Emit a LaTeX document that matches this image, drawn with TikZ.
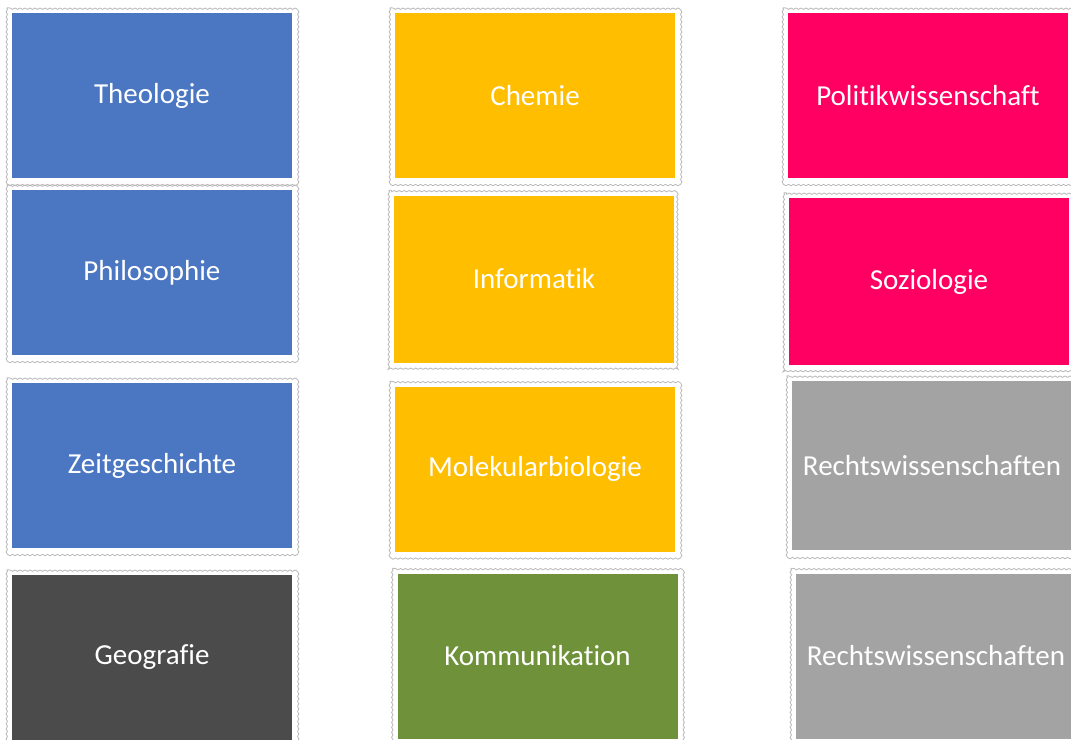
\documentclass[tikz,border=0pt]{standalone}
\usepackage{fontspec}
\setmainfont[Ligatures=NoCommon]{Carlito}
\usetikzlibrary{decorations.pathmorphing}

\definecolor{theoblue}{HTML}{4A76C2}
\definecolor{natyellow}{HTML}{FFBE00}
\definecolor{socpink}{HTML}{FF0062}
\definecolor{geodark}{HTML}{4B4B4B}
\definecolor{komgreen}{HTML}{6E9139}
\definecolor{lawgray}{HTML}{A3A3A3}

\begin{document}
\begin{tikzpicture}[
            x = 1pt, y = -1pt, % pixel grid of the reference
            font = \fontsize{29}{35}\selectfont,
            frame/.style = {
                draw = black!28,
                line width = 0.8pt,
                decorate,
                decoration = {snake, segment length = 5pt, amplitude = 0.7pt}
            }
        ]

        \tikzstyle{subject}=[
            rectangle,
            text = white,
            minimum width = 280pt,
            minimum height = 165pt,
            inner sep = 0pt
        ]

    \useasboundingbox (0,0) rectangle (1071,739);

	% first column
	\node[subject, fill = theoblue] (theo) at (152,95.5) {Theologie};
	\node[subject, fill = theoblue] (phil) at (152,272.5) {Philosophie};
	\node[subject, fill = theoblue] (zeit) at (152,465.5) {Zeitgeschichte};
	\node[subject, fill = geodark] (geo) at (152,657.5) {Geografie};

	% second column
	\node[subject, fill = natyellow] (chem) at (535,95.5) {Chemie};
	\node[subject, fill = natyellow, minimum height = 167pt] (info) at (534,279) {Informatik};
	\node[subject, fill = natyellow] (molek) at (535,469) {Molekularbiologie};
	\node[subject, fill = komgreen] (komm) at (537.5,656) {Kommunikation};

	% third column
	\node[subject, fill = socpink] (polit) at (928,95.5) {Politikwissenschaft};
	\node[subject, fill = socpink, minimum height = 167pt] (sozio) at (929,281.5) {Soziologie};
	\node[subject, fill = lawgray, minimum height = 169pt] (rechtsA) at (932,465.5) {Rechtswissenschaften};
	\node[subject, fill = lawgray] (rechtsB) at (936,656) {Rechtswissenschaften};

	% frames round the boxes
	\foreach \n in {theo, phil, zeit, geo, chem, info, molek, komm, polit, sozio, rechtsA, rechtsB}
	    \draw[frame] ([shift={(-5pt,5pt)}]\n.north west) rectangle ([shift={(5pt,-5pt)}]\n.south east);

    \end{tikzpicture}
\end{document}
